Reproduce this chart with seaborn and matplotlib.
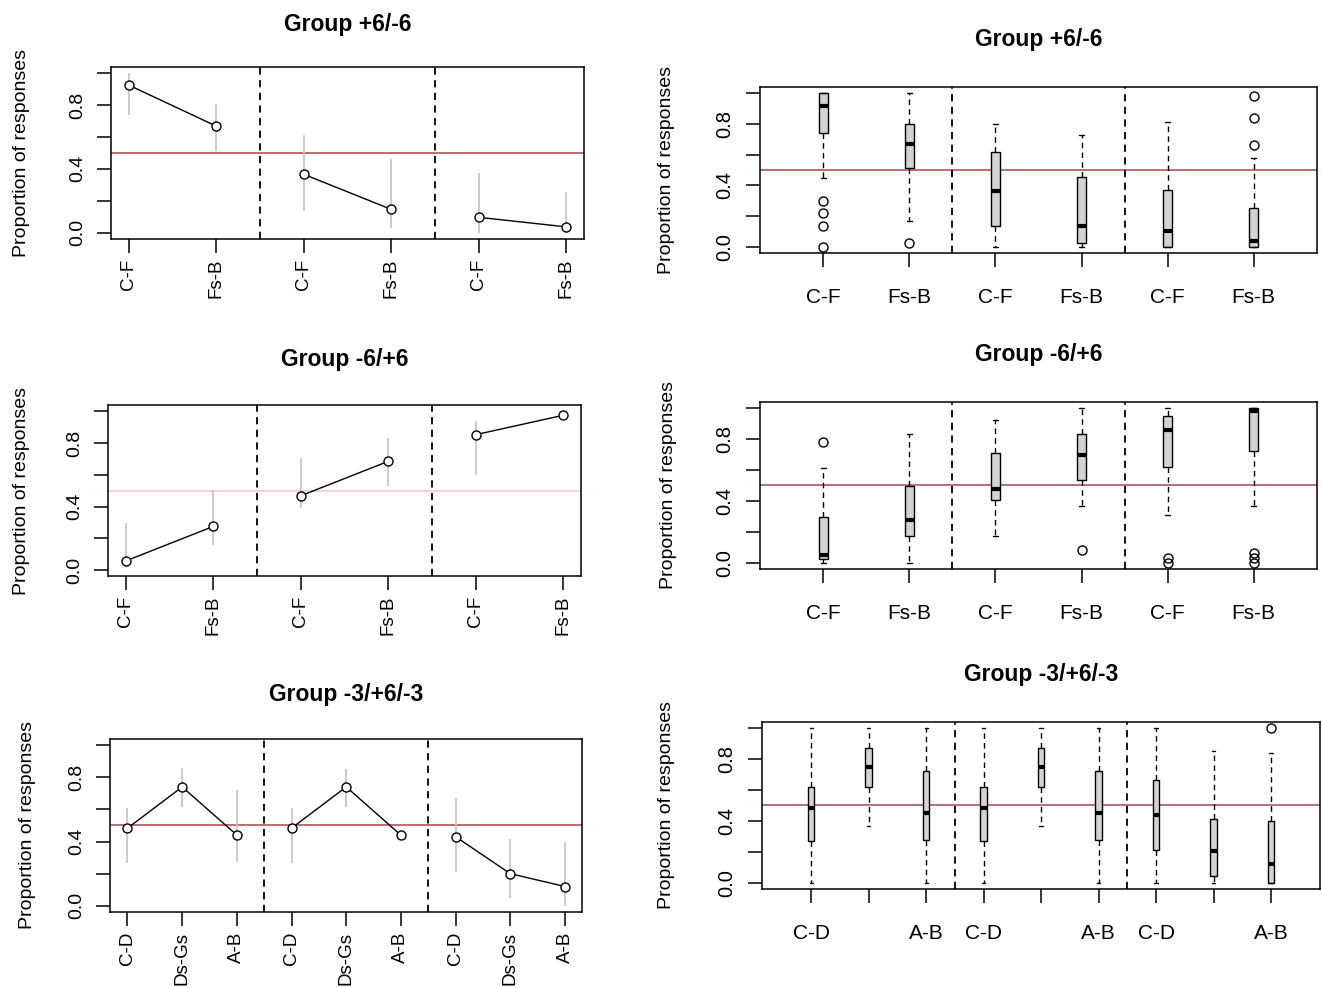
import numpy as np
import pandas as pd
import seaborn as sns
import matplotlib.pyplot as plt

sns.set_style("white")
plt.rcParams['font.family'] = ['Liberation Sans', 'DejaVu Sans']
plt.rcParams.update({'text.color': 'black', 'axes.labelcolor': 'black',
                     'xtick.color': 'black', 'ytick.color': 'black'})

# ---- data ----
pair_labels = ["C-F", "Fs-B", "C-F", "Fs-B", "C-F", "Fs-B"]
triple_labels = ["C-D", "Ds-Gs", "A-B", "C-D", "Ds-Gs", "A-B", "C-D", "Ds-Gs", "A-B"]
triple_box_labels = ["C-D", "", "A-B", "C-D", "", "A-B", "C-D", "", "A-B"]

# left column: mean proportion and its range (grey bars)
g1_mean = [0.925, 0.668, 0.366, 0.146, 0.096, 0.036]
g1_lo = [0.737, 0.514, 0.136, 0.027, 0.0, 0.0]
g1_hi = [1.0, 0.804, 0.612, 0.46, 0.376, 0.257]

g2_mean = [0.058, 0.275, 0.468, 0.685, 0.853, 0.975]
g2_lo = [0.03, 0.157, 0.393, 0.53, 0.602, 0.975]
g2_hi = [0.296, 0.503, 0.704, 0.83, 0.938, 0.975]

g3_mean = [0.483, 0.74, 0.44, 0.483, 0.74, 0.44, 0.43, 0.20, 0.12]
g3_lo = [0.268, 0.612, 0.274, 0.268, 0.612, 0.44, 0.21, 0.046, 0.0]
g3_hi = [0.606, 0.855, 0.72, 0.606, 0.85, 0.44, 0.668, 0.413, 0.40]

# right column: box statistics
b1_lo = [0.45, 0.17, 0.0, 0.0, 0.0, 0.0]
b1_q1 = [0.74, 0.515, 0.135, 0.026, 0.0, 0.0]
b1_med = [0.917, 0.667, 0.365, 0.135, 0.104, 0.037]
b1_q3 = [1.0, 0.80, 0.615, 0.454, 0.37, 0.252]
b1_hi = [1.0, 1.0, 0.80, 0.726, 0.81, 0.58]
b1_out = [[0.30, 0.22, 0.135, 0.0], [0.024], [], [], [], [0.98, 0.835, 0.665]]

b2_lo = [0.0, 0.0, 0.17, 0.365, 0.31, 0.365]
b2_q1 = [0.024, 0.17, 0.404, 0.537, 0.62, 0.724]
b2_med = [0.05, 0.278, 0.474, 0.698, 0.859, 0.978]
b2_q3 = [0.293, 0.496, 0.707, 0.833, 0.946, 1.0]
b2_hi = [0.615, 0.833, 0.92, 1.0, 1.0, 1.0]
b2_out = [[0.783], [], [], [0.083], [0.033, 0.0], [0.065, 0.033, 0.0]]

b3_lo = [0.0, 0.365, 0.0, 0.0, 0.365, 0.0, 0.0, 0.0, 0.0]
b3_q1 = [0.272, 0.62, 0.278, 0.272, 0.62, 0.278, 0.211, 0.041, 0.0]
b3_med = [0.485, 0.75, 0.452, 0.485, 0.75, 0.452, 0.435, 0.207, 0.12]
b3_q3 = [0.62, 0.872, 0.724, 0.62, 0.872, 0.724, 0.667, 0.413, 0.396]
b3_hi = [1.0, 1.0, 1.0, 1.0, 1.0, 1.0, 1.0, 0.854, 0.837]
b3_out = [[], [], [], [], [], [], [], [], [1.0]]

yticks = [0.0, 0.2, 0.4, 0.6, 0.8, 1.0]
ytick_labels = ["0.0", "", "0.4", "", "0.8", ""]
red = "#a34a48"
pink = "#f7c8c8"

fig = plt.figure(figsize=(13.22, 9.88), dpi=100)


def style_axes(ax, labels, xlim, rotate, xfs, yfs, xpad, ypad, ylab_x, title, tpad):
    n = len(labels)
    ax.set_xlim(*xlim)
    ax.set_ylim(-0.04, 1.04)
    ax.set_xticks(np.arange(1, n + 1))
    ax.set_xticklabels(labels, rotation=90 if rotate else 0, fontsize=xfs)
    ax.set_yticks(yticks)
    ax.set_yticklabels(ytick_labels, rotation=90, va='center', fontsize=yfs)
    ax.tick_params(axis='both', direction='out', length=10, width=1.1,
                   color='black', bottom=True, left=True)
    ax.tick_params(axis='x', pad=xpad)
    ax.tick_params(axis='y', pad=ypad)
    for s in ax.spines.values():
        s.set_linewidth(1.1)
        s.set_color('black')
    ax.set_xlabel('')
    ax.set_ylabel('Proportion of responses', fontsize=14)
    ax.yaxis.set_label_coords(ylab_x, 0.5)
    ax.set_title(title, fontsize=16.5, fontweight='bold', pad=tpad)


def left_panel(rect, title, labels, mean, lo, hi, k, ref_color, ylab_x, tpad):
    ax = fig.add_axes(rect)
    n = len(mean)
    df = pd.DataFrame({'pos': np.arange(1, n + 1), 'prop': mean,
                       'seg': np.arange(n) // k})
    ax.axhline(0.5, color=ref_color, lw=1.1, zorder=0.5)
    ax.vlines(df['pos'], lo, hi, color='#c2c2c2', lw=1.2, zorder=1)
    sns.lineplot(data=df, x='pos', y='prop', units='seg', estimator=None,
                 color='black', lw=1, marker='o', markersize=6.5,
                 markerfacecolor='white', markeredgecolor='black',
                 markeredgewidth=1, legend=False, ax=ax, zorder=3)
    for b in np.arange(k, n, k) + 0.5:
        ax.axvline(b, color='black', lw=1.3, ls=(0, (4, 3)), zorder=2)
    ext = 0.04 * (n - 1)
    style_axes(ax, labels, (1 - ext, n + ext), True, 13.5, 14, 4, 8, ylab_x, title, tpad)
    return ax


def right_panel(rect, title, labels, lo, q1, med, q3, hi, out, k, ylab_x, tpad):
    ax = fig.add_axes(rect)
    n = len(med)
    stats = [dict(whislo=a, q1=b, med=c, q3=d, whishi=e, fliers=f)
             for a, b, c, d, e, f in zip(lo, q1, med, q3, hi, out)]
    ax.axhline(0.5, color=red, lw=1.1, zorder=0.5)
    ax.bxp(stats, positions=np.arange(1, n + 1), widths=0.11, patch_artist=True,
           boxprops=dict(facecolor='#d3d3d3', edgecolor='black', lw=1),
           medianprops=dict(color='black', lw=3, solid_capstyle='butt'),
           whiskerprops=dict(color='black', lw=1, ls=(0, (4, 3))),
           capprops=dict(color='black', lw=1), capwidths=0.055,
           flierprops=dict(marker='o', markerfacecolor='none', markeredgecolor='black',
                           markersize=6.5, markeredgewidth=1),
           manage_ticks=False)
    for b in np.arange(k, n, k) + 0.5:
        ax.axvline(b, color='black', lw=1.3, ls=(0, (4, 3)), zorder=2)
    ext = 0.04 * n
    style_axes(ax, labels, (0.5 - ext, n + 0.5 + ext), False, 15, 14.5, 15, 8,
               ylab_x, title, tpad)
    return ax


left_panel([0.0840, 0.7581, 0.3575, 0.1744], "Group +6/-6", pair_labels,
           g1_mean, g1_lo, g1_hi, 2, red, -0.172, 26)
left_panel([0.0819, 0.4165, 0.3573, 0.1736], "Group -6/+6", pair_labels,
           g2_mean, g2_lo, g2_hi, 2, pink, -0.165, 28)
left_panel([0.0832, 0.0767, 0.3574, 0.1756], "Group -3/+6/-3", triple_labels,
           g3_mean, g3_lo, g3_hi, 3, red, -0.157, 27.5)

right_panel([0.5746, 0.7436, 0.4219, 0.1686], "Group +6/-6", pair_labels,
            b1_lo, b1_q1, b1_med, b1_q3, b1_hi, b1_out, 2, -0.151, 29)
right_panel([0.5746, 0.4241, 0.4219, 0.1693], "Group -6/+6", pair_labels,
            b2_lo, b2_q1, b2_med, b2_q3, b2_hi, b2_out, 2, -0.148, 29)
right_panel([0.5762, 0.1002, 0.4226, 0.1693], "Group -3/+6/-3", triple_box_labels,
            b3_lo, b3_q1, b3_med, b3_q3, b3_hi, b3_out, 3, -0.155, 29.5)

fig.savefig("out.png", dpi=100, facecolor='white')
